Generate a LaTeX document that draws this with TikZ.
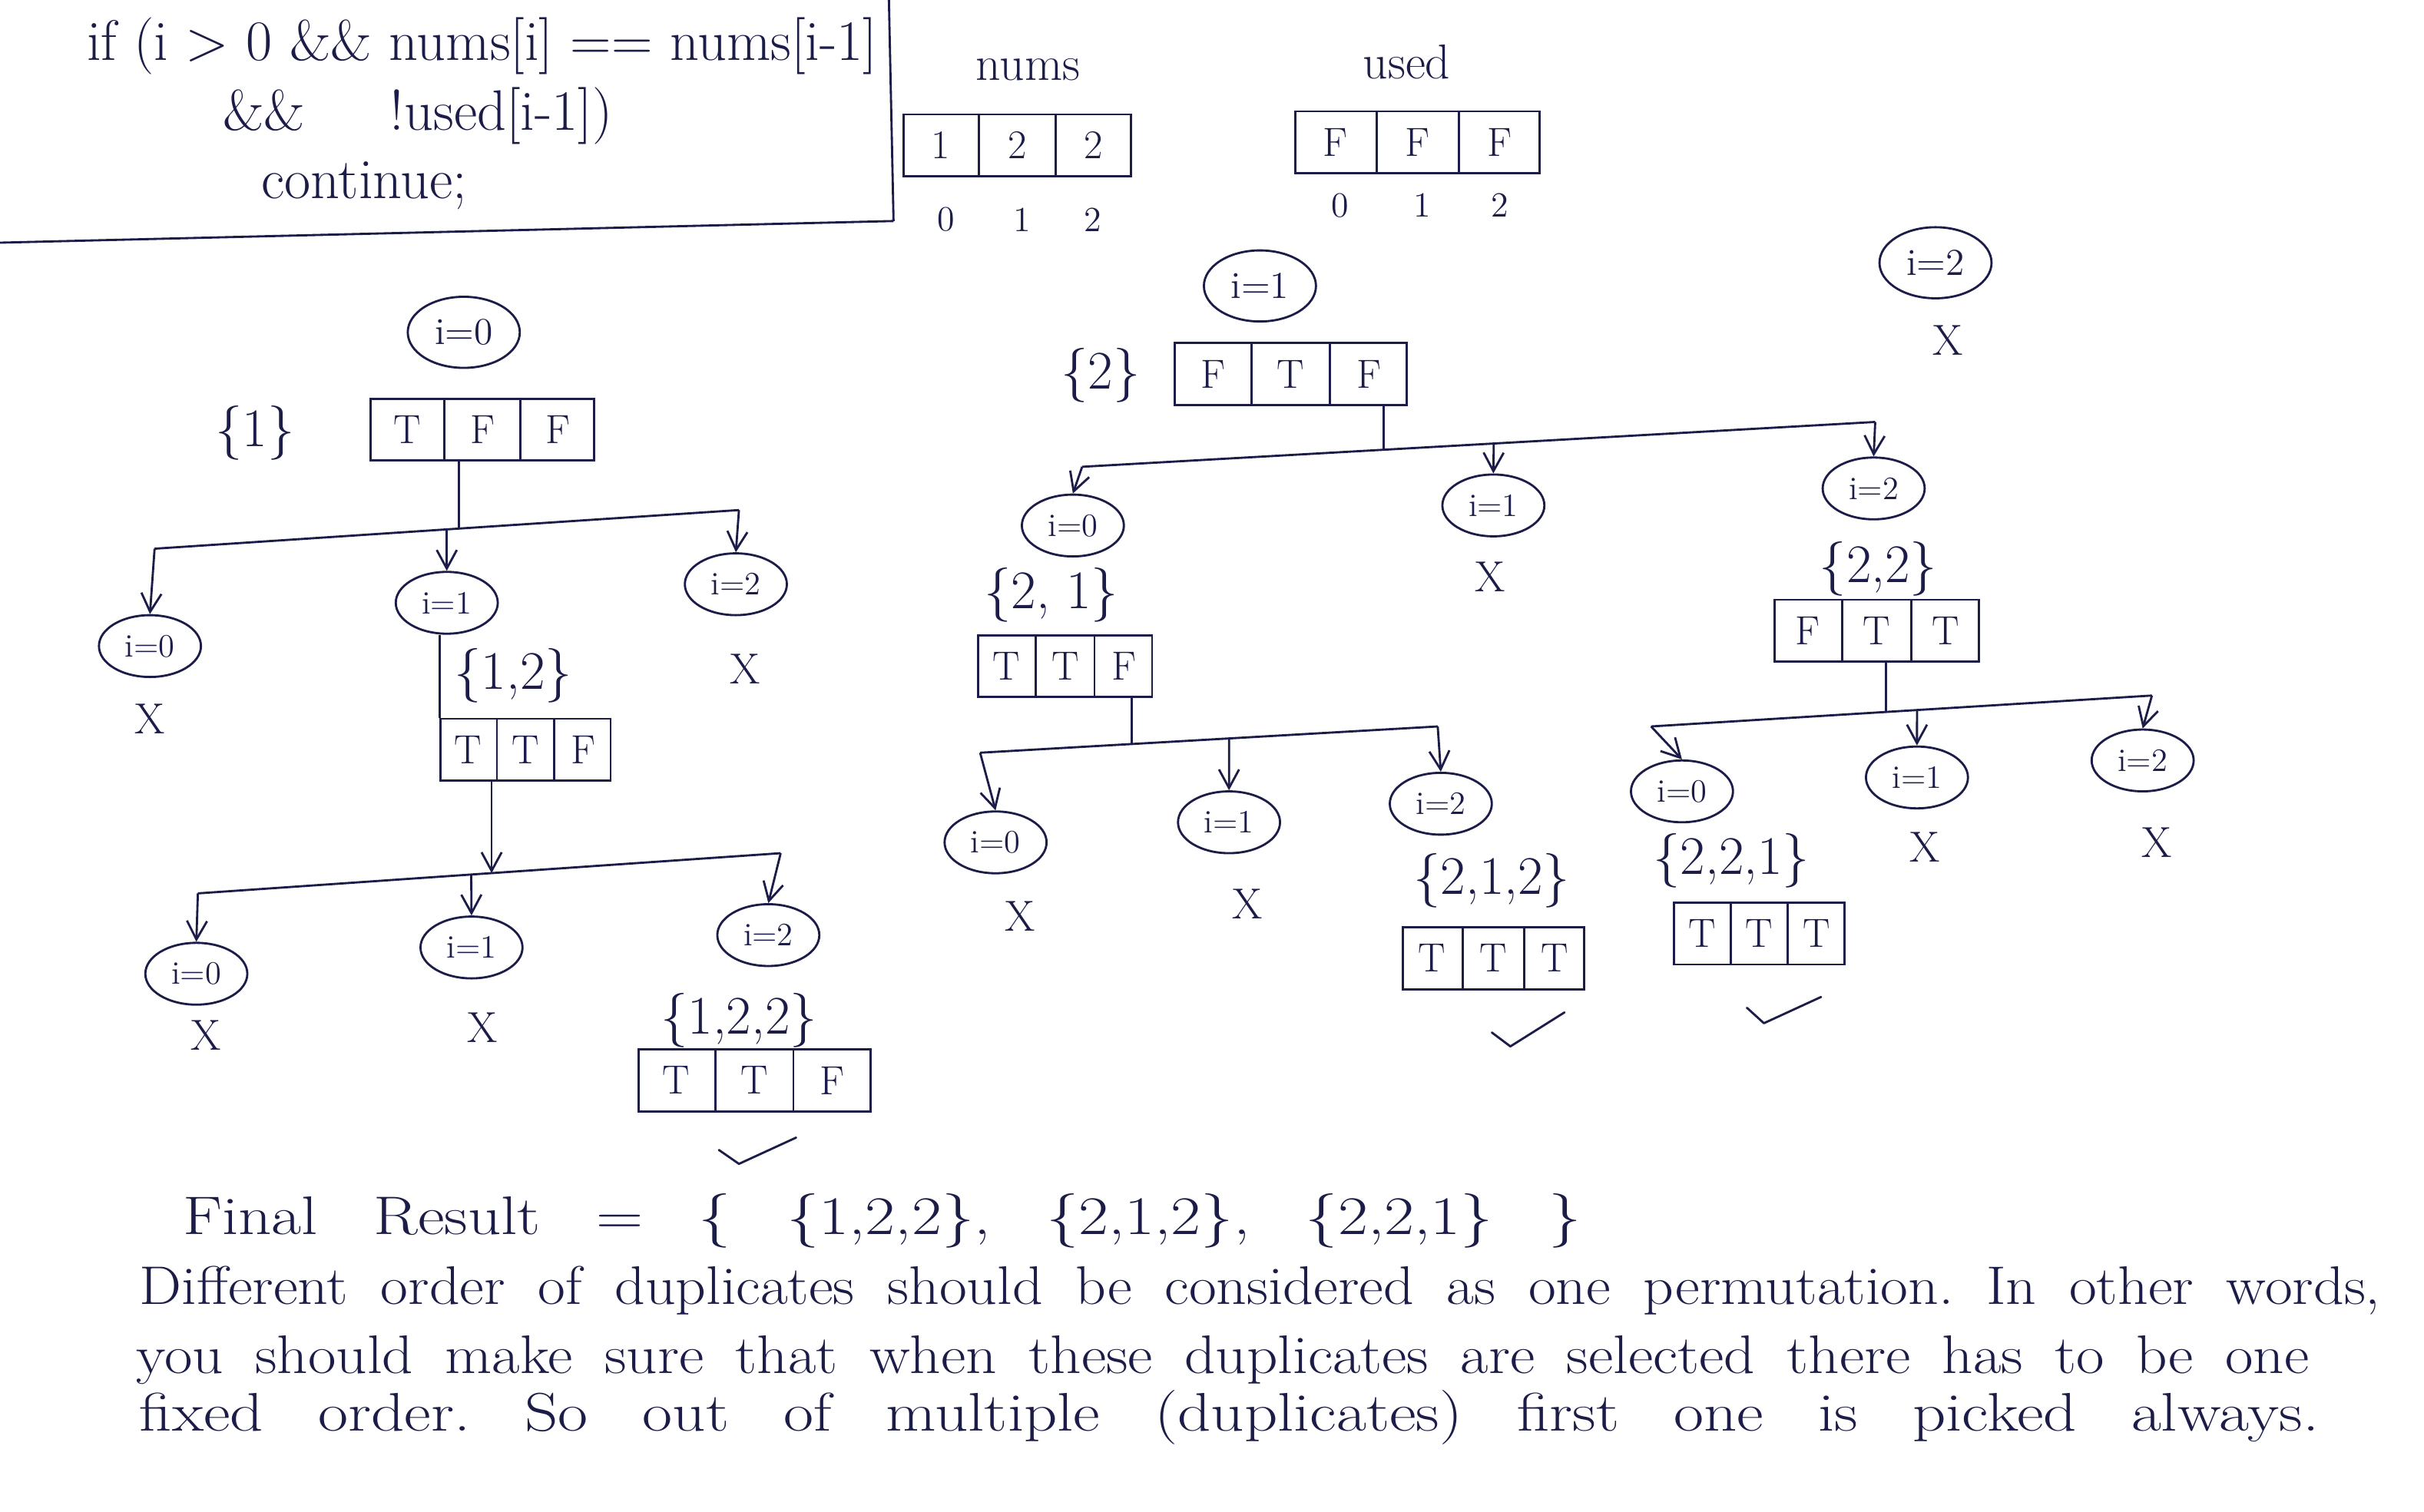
\documentclass[tikz,border=0pt]{standalone}
\usepackage{fontspec}
\usepackage{graphicx}
\usetikzlibrary{shapes.geometric,arrows.meta,calc}
\definecolor{ink}{RGB}{28,28,72}
\frenchspacing
\tikzset{
  every node/.style={text=ink},
  inode/.style={draw=ink, ellipse, thick, minimum width=1.32cm, minimum height=0.8cm, inner sep=0pt, font=\fontsize{12}{14}\selectfont},
  bignode/.style={inode, minimum width=1.45cm, minimum height=0.92cm, font=\fontsize{14}{16}\selectfont},
  arrbox/.style={draw=ink, thick, rectangle, minimum height=0.8cm, inner sep=0pt},
  cellt/.style={font=\fontsize{15}{17}\selectfont, inner sep=0pt},
  lbl/.style={font=\fontsize{20}{22}\selectfont},
  toplbl/.style={font=\fontsize{18}{20}\selectfont},
  xmark/.style={font=\fontsize{16}{18}\selectfont},
  idx/.style={font=\fontsize{13}{15}\selectfont},
  codet/.style={font=\fontsize{21}{23}\selectfont, anchor=west},
  prose/.style={font=\fontsize{20}{22}\selectfont, anchor=west, inner sep=0pt},
  link/.style={draw=ink, thick},
  arr/.style={draw=ink, thick, -{Straight Barb[length=2.4mm, width=2.6mm]}},
  chk/.style={draw=ink, thick, line cap=round, line join=round},
}
\newcommand{\cells}[6]{%
  \node[arrbox, minimum width=#3cm] (#1) at #2 {};
  \draw[link] ($(#1.north west)!1/3!(#1.north east)$) -- ($(#1.south west)!1/3!(#1.south east)$);
  \draw[link] ($(#1.north west)!2/3!(#1.north east)$) -- ($(#1.south west)!2/3!(#1.south east)$);
  \node[cellt] (#1-a) at ($(#1.west)!1/6!(#1.east)$) {#4};
  \node[cellt] (#1-b) at ($(#1.west)!1/2!(#1.east)$) {#5};
  \node[cellt] (#1-c) at ($(#1.west)!5/6!(#1.east)$) {#6};
}
\newcommand{\spreadline}[3]{\scalebox{#2}[1]{\makebox[#1][s]{#3}}}
\begin{document}
\begin{tikzpicture}[x=0.02cm,y=-0.02cm]
\useasboundingbox (0,0) rectangle (1568,978);
\fill[white] (0,0) rectangle (1568,978);

% ---- code box ----
\coordinate (cb1) at (0,157);
\coordinate (cb2) at (578,143);
\coordinate (cb3) at (575,0);
\draw[link] (cb1) -- (cb2);
\draw[link] (cb3) -- (cb2);
\node[codet] (code1) at (50,30) {if (i > 0 \&\& nums[i] == nums[i-1]};
\node[codet] (code2) at (138,75) {\&\&\hspace{1.1cm}!used[i-1])};
\node[codet] (code3) at (163,120) {continue;};

% ---- nums / used ----
\node[toplbl] (numslbl) at (665,45) {nums};
\cells{nums}{(658,94)}{2.94}{1}{2}{2}
\node[idx] (n0) at (612,142) {0};
\node[idx] (n1) at (661,142) {1};
\node[idx] (n2) at (707,142) {2};
\node[toplbl] (usedlbl) at (910,40) {used};
\cells{used}{(917,92)}{3.16}{F}{F}{F}
\node[idx] (u0) at (867,133) {0};
\node[idx] (u1) at (920,133) {1};
\node[idx] (u2) at (970,133) {2};

% ---- left tree (i=0) ----
\node[bignode] (r0) at (300,215) {i=0};
\node[lbl] (l1) at (165,280) {\{1\}};
\cells{a0}{(312,278)}{2.9}{T}{F}{F}
\coordinate (bA1) at (100,355);
\coordinate (bA2) at (478,330);
\coordinate (jA) at ($(bA1)!0.521!(bA2)$);
\draw[link] (bA1) -- (bA2);
\draw[link] (jA |- a0.south) -- (jA);
\node[inode] (cA0) at (97,418) {i=0};
\node[inode] (cA1) at (289,390) {i=1};
\node[inode] (cA2) at (476,378) {i=2};
\coordinate (mA) at ($(bA1)!0.5!(bA2)$);
\draw[arr] (bA1) -- (cA0.north);
\draw[arr] (mA) -- (cA1.north);
\draw[arr] (bA2) -- (cA2.north);
\node[xmark] (xA0) at (97,465) {X};
\node[xmark] (xA2) at (482,433) {X};
\node[lbl] (lA1) at (332,437) {\{1,2\}};
\cells{aA1}{(340,485)}{2.2}{T}{T}{F}
\draw[link] (aA1.north west |- cA1.south) -- (aA1.north west);

\coordinate (bB1) at (128,578);
\coordinate (bB2) at (505,552);
\coordinate (jB) at ($(bB1)!0.504!(bB2)$);
\draw[link] (bB1) -- (bB2);
\draw[arr] (jB |- aA1.south) -- (jB);
\node[inode] (cB0) at (127,630) {i=0};
\node[inode] (cB1) at (305,613) {i=1};
\node[inode] (cB2) at (497,605) {i=2};
\coordinate (mB) at ($(bB1)!0.469!(bB2)$);
\draw[arr] (bB1) -- (cB0.north);
\draw[arr] (mB) -- (cB1.north);
\draw[arr] (bB2) -- (cB2.north);
\node[xmark] (xB0) at (133,670) {X};
\node[xmark] (xB1) at (312,665) {X};
\node[lbl] (lB2) at (478,660) {\{1,2,2\}};
\cells{aB2}{(488,699)}{3.0}{T}{T}{F}
\draw[chk] (465,744) -- (478,753) -- (515,736);

% ---- middle tree (i=1) ----
\node[bignode] (r1) at (815,185) {i=1};
\node[lbl] (l2) at (712,243) {\{2\}};
\cells{a1}{(835,242)}{3.0}{F}{T}{F}
\coordinate (bC1) at (700,302);
\coordinate (bC2) at (1213,273);
\coordinate (jC) at ($(bC1)!0.38!(bC2)$);
\draw[link] (bC1) -- (bC2);
\draw[link] (jC |- a1.south) -- (jC);
\node[inode] (cC0) at (694,340) {i=0};
\node[inode] (cC1) at (966,327) {i=1};
\node[inode] (cC2) at (1212,316) {i=2};
\coordinate (mC) at ($(bC1)!0.519!(bC2)$);
\draw[arr] (bC1) -- (cC0.north);
\draw[arr] (mC) -- (cC1.north);
\draw[arr] (bC2) -- (cC2.north);
\node[xmark] (xC1) at (964,373) {X};

\node[lbl] (lC0) at (680,385) {\{2, 1\}};
\cells{aC0}{(689,431)}{2.25}{T}{T}{F}
\coordinate (bD1) at (634,487);
\coordinate (bD2) at (930,470);
\coordinate (jD) at ($(bD1)!0.331!(bD2)$);
\draw[link] (bD1) -- (bD2);
\draw[link] (jD |- aC0.south) -- (jD);
\node[inode] (cD0) at (644,545) {i=0};
\node[inode] (cD1) at (795,532) {i=1};
\node[inode] (cD2) at (932,520) {i=2};
\coordinate (mD) at ($(bD1)!0.544!(bD2)$);
\draw[arr] (bD1) -- (cD0.north);
\draw[arr] (mD) -- (cD1.north);
\draw[arr] (bD2) -- (cD2.north);
\node[xmark] (xD0) at (660,593) {X};
\node[xmark] (xD1) at (807,585) {X};
\node[lbl] (lD2) at (965,570) {\{2,1,2\}};
\cells{aD2}{(966,620)}{2.35}{T}{T}{T}
\draw[chk] (965,668) -- (977,677) -- (1012,655);

\node[lbl] (lC2) at (1215,368) {\{2,2\}};
\cells{aC2}{(1214,408)}{2.65}{F}{T}{T}
\coordinate (bE1) at (1068,470);
\coordinate (bE2) at (1392,450);
\coordinate (jE) at ($(bE1)!0.469!(bE2)$);
\draw[link] (bE1) -- (bE2);
\draw[link] (jE |- aC2.south) -- (jE);
\node[inode] (cE0) at (1088,512) {i=0};
\node[inode] (cE1) at (1240,503) {i=1};
\node[inode] (cE2) at (1386,492) {i=2};
\coordinate (mE) at ($(bE1)!0.531!(bE2)$);
\draw[arr] (bE1) -- (cE0.north);
\draw[arr] (mE) -- (cE1.north);
\draw[arr] (bE2) -- (cE2.north);
\node[xmark] (xE1) at (1245,548) {X};
\node[xmark] (xE2) at (1395,545) {X};
\node[lbl] (lE0) at (1120,557) {\{2,2,1\}};
\cells{aE0}{(1138,604)}{2.2}{T}{T}{T}
\draw[chk] (1130,652) -- (1141,662) -- (1178,645);

% ---- right (i=2) ----
\node[bignode] (r2) at (1252,170) {i=2};
\node[xmark] (xR2) at (1260,220) {X};

% ---- bottom text ----
\node[prose] (fr) at (118,790) {\spreadline{15.08cm}{1.2}{Final Result = \{ \{1,2,2\}, \{2,1,2\}, \{2,2,1\} \}}};
\node[prose] (t1) at (90,835) {\spreadline{26.36cm}{1.1}{Different order of duplicates should be considered as one permutation. In other words,}};
\node[prose] (t2) at (88,880) {\spreadline{25.1cm}{1.12}{you should make sure that when these duplicates are selected there has to be one}};
\node[prose] (t3) at (90,917) {\spreadline{23.5cm}{1.2}{fixed order. So out of multiple (duplicates) first one is picked always.}};
\end{tikzpicture}
\end{document}
